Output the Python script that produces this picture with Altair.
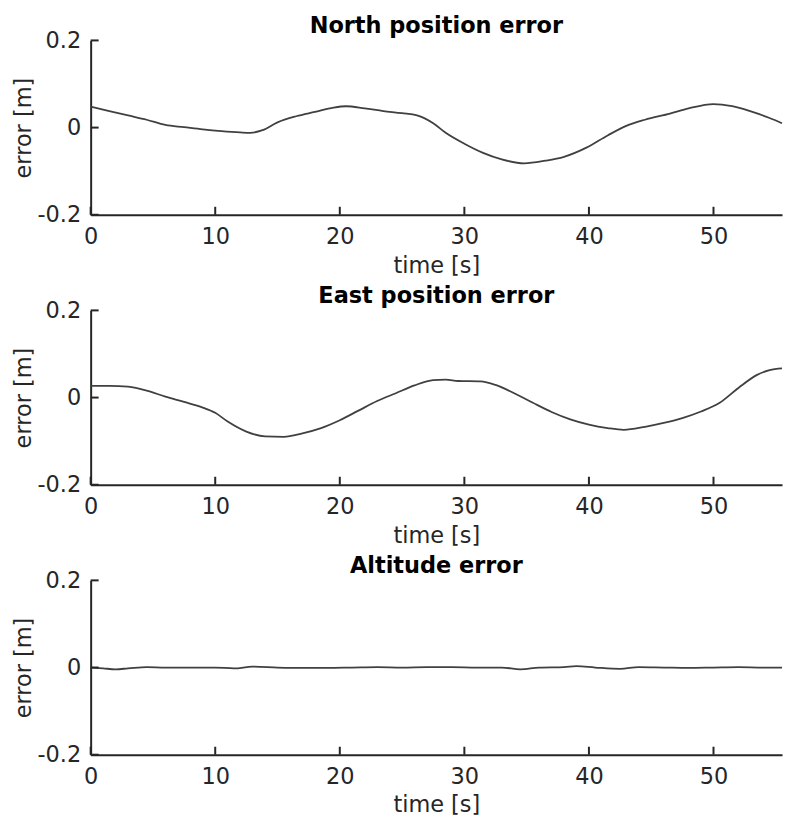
import altair as alt
import pandas as pd

# ---- data ----
north_t = [0, 1.5, 3, 4.5, 6, 7.5, 9, 10.5, 12, 12.8, 13.8, 15, 16.5, 18, 19.5, 20.5, 22, 23.5, 25, 26.2,
           27.5, 28.5, 30, 31.5, 33, 34.8, 36.5, 38, 39.8, 41.5, 43, 44.5, 46.5, 48, 50, 51.5, 53, 54.5, 55.5]
north_err = [0.048, 0.038, 0.028, 0.018, 0.006, 0.001, -0.004, -0.008, -0.011, -0.012, -0.006, 0.012, 0.026,
             0.036, 0.046, 0.049, 0.044, 0.038, 0.033, 0.028, 0.010, -0.012, -0.037, -0.058, -0.073, -0.082,
             -0.076, -0.067, -0.046, -0.018, 0.004, 0.018, 0.032, 0.044, 0.054, 0.049, 0.037, 0.022, 0.010]

east_t = [0, 1.5, 3, 4.5, 6, 7.5, 9, 10, 11, 12.5, 14, 15.5, 17, 18.5, 20, 21.5, 23, 24.5, 26, 27.5, 28.5,
          29.5, 31.3, 32.5, 34, 35.5, 37, 38.5, 40, 41.5, 42.8, 44.5, 46, 47.5, 49, 50.5, 52, 53.5, 54.5, 55.5]
east_err = [0.027, 0.027, 0.025, 0.016, 0.002, -0.010, -0.023, -0.035, -0.055, -0.078, -0.089, -0.090, -0.082,
            -0.070, -0.052, -0.030, -0.008, 0.010, 0.028, 0.040, 0.041, 0.038, 0.037, 0.029, 0.010, -0.012,
            -0.033, -0.050, -0.062, -0.070, -0.074, -0.067, -0.058, -0.047, -0.032, -0.012, 0.022, 0.052,
            0.063, 0.067]

alt_t = [0, 1, 2, 3, 4.5, 6, 8, 10, 11.5, 13, 15, 17, 19, 21, 23, 25, 27, 29, 31, 33, 34.5, 36, 38, 39,
         40.5, 42.5, 44, 46, 48, 50, 52, 54, 55.5]
alt_err = [0.000, -0.002, -0.004, -0.002, 0.001, 0.000, 0.000, 0.000, -0.002, 0.002, 0.000, -0.001, -0.001,
           0.000, 0.001, 0.000, 0.001, 0.001, 0.000, 0.000, -0.004, 0.000, 0.001, 0.003, 0.000, -0.003, 0.001,
           0.000, -0.001, 0.000, 0.001, 0.000, 0.000]

titles = ["North position error", "East position error", "Altitude error"]
x_ticks = [0, 10, 20, 30, 40, 50]
y_ticks = [-0.2, 0, 0.2]
x_domain = [0, 55.5]
y_domain = [-0.2, 0.2]

W, H = 694, 175
INK = "#262626"
LINE = "#404040"
FS = 22.5


def panel(ts, vals, title):
    df = pd.DataFrame({"t": ts, "v": vals})
    xt = pd.DataFrame({"t": x_ticks})
    yt = pd.DataFrame({"v": y_ticks})
    xs = alt.Scale(domain=x_domain, nice=False, zero=False)
    ys = alt.Scale(domain=y_domain, nice=False, zero=False)
    x_axis = alt.Axis(values=x_ticks, ticks=False, grid=False, labelPadding=11, titlePadding=6,
                      labelFlush=False)
    y_axis = alt.Axis(values=y_ticks, ticks=False, grid=False, labelPadding=10, titlePadding=1,
                      labelFlush=False,
                      format=".1~f", labelExpr="replace(datum.label, '\u2212', '-')")
    x_enc = alt.X("t:Q", scale=xs, title="time [s]", axis=x_axis)
    y_enc = alt.Y("v:Q", scale=ys, title="error [m]", axis=y_axis)
    line = alt.Chart(df).mark_line(color=LINE, strokeWidth=1.8, interpolate="monotone").encode(
        x=x_enc, y=y_enc,
    )
    xr = alt.Chart(xt).mark_rule(color=INK, strokeWidth=2).encode(
        x=x_enc, y=alt.value(H), y2=alt.value(H - 8),
    )
    yr = alt.Chart(yt).mark_rule(color=INK, strokeWidth=2).encode(
        y=y_enc, x=alt.value(0), x2=alt.value(8),
    )
    return alt.layer(line, xr, yr).properties(
        width=W, height=H,
        title=alt.TitleParams(title, frame="group", offset=-8),
    )


chart = alt.vconcat(
    panel(north_t, north_err, titles[0]),
    panel(east_t, east_err, titles[1]),
    panel(alt_t, alt_err, titles[2]),
    spacing=96, bounds="flush",
).properties(
    padding={"left": 13, "top": 13, "right": 0, "bottom": 10},
    background="white",
).configure_view(stroke=None).configure_axis(
    domainColor=INK, domainWidth=2, labelColor=INK, labelFont="DejaVu Sans", labelFontSize=FS,
    titleFont="DejaVu Sans", titleFontSize=FS, titleFontWeight="normal", titleColor=INK,
).configure_title(
    font="DejaVu Sans", fontSize=FS, fontWeight="bold", color="black", anchor="middle",
)

chart.save("out.html", embed_options={"renderer": "svg", "actions": False})
